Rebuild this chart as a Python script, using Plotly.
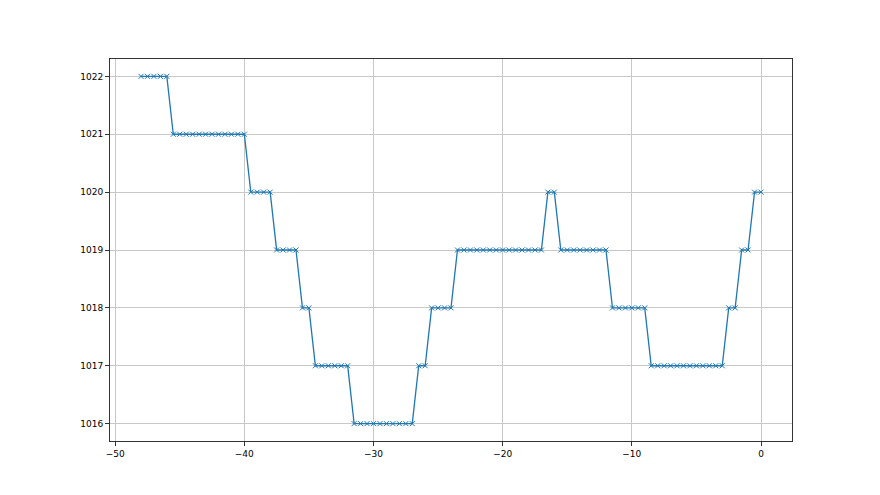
import plotly.graph_objects as go

hours = [-48.0, -47.5, -47.0, -46.5, -46.0, -45.5, -45.0, -44.5, -44.0, -43.5,
         -43.0, -42.5, -42.0, -41.5, -41.0, -40.5, -40.0, -39.5, -39.0, -38.5,
         -38.0, -37.5, -37.0, -36.5, -36.0, -35.5, -35.0, -34.5, -34.0, -33.5,
         -33.0, -32.5, -32.0, -31.5, -31.0, -30.5, -30.0, -29.5, -29.0, -28.5,
         -28.0, -27.5, -27.0, -26.5, -26.0, -25.5, -25.0, -24.5, -24.0, -23.5,
         -23.0, -22.5, -22.0, -21.5, -21.0, -20.5, -20.0, -19.5, -19.0, -18.5,
         -18.0, -17.5, -17.0, -16.5, -16.0, -15.5, -15.0, -14.5, -14.0, -13.5,
         -13.0, -12.5, -12.0, -11.5, -11.0, -10.5, -10.0, -9.5, -9.0, -8.5,
         -8.0, -7.5, -7.0, -6.5, -6.0, -5.5, -5.0, -4.5, -4.0, -3.5,
         -3.0, -2.5, -2.0, -1.5, -1.0, -0.5, 0.0]

pressure = [1022, 1022, 1022, 1022, 1022,
            1021, 1021, 1021, 1021, 1021, 1021, 1021, 1021, 1021, 1021, 1021, 1021,
            1020, 1020, 1020, 1020,
            1019, 1019, 1019, 1019,
            1018, 1018,
            1017, 1017, 1017, 1017, 1017, 1017,
            1016, 1016, 1016, 1016, 1016, 1016, 1016, 1016, 1016, 1016,
            1017, 1017,
            1018, 1018, 1018, 1018,
            1019, 1019, 1019, 1019, 1019, 1019, 1019, 1019, 1019, 1019, 1019, 1019, 1019, 1019,
            1020, 1020,
            1019, 1019, 1019, 1019, 1019, 1019, 1019, 1019,
            1018, 1018, 1018, 1018, 1018, 1018,
            1017, 1017, 1017, 1017, 1017, 1017, 1017, 1017, 1017, 1017, 1017, 1017,
            1018, 1018,
            1019, 1019,
            1020, 1020]

x_ticks = [-50, -40, -30, -20, -10, 0]
y_ticks = [1016, 1017, 1018, 1019, 1020, 1021, 1022]

fig = go.Figure()
fig.add_trace(go.Scatter(
    x=hours, y=pressure, mode="lines+markers",
    line=dict(color="#1f77b4", width=1.3),
    marker=dict(symbol="x-thin", size=5, line=dict(color="#1f77b4", width=1)),
    showlegend=False,
))

axis_common = dict(
    showgrid=True, gridcolor="#c8c8c8", gridwidth=1,
    showline=True, linecolor="#333333", linewidth=1, mirror=True,
    ticks="outside", ticklen=4, tickcolor="#333333", tickwidth=1,
    zeroline=False, tickfont=dict(family="DejaVu Sans", size=9, color="black"),
)

fig.update_xaxes(range=[-50.4, 2.4], tickvals=x_ticks,
                 ticktext=[("\u2212" + str(-v)) if v < 0 else str(v) for v in x_ticks],
                 **axis_common)
fig.update_yaxes(range=[1015.7, 1022.3], tickvals=y_ticks, **axis_common)

fig.update_layout(
    width=872, height=487,
    margin=dict(l=102, r=88, t=51, b=54),
    paper_bgcolor="white", plot_bgcolor="white",
)

fig.write_html("out.html")
